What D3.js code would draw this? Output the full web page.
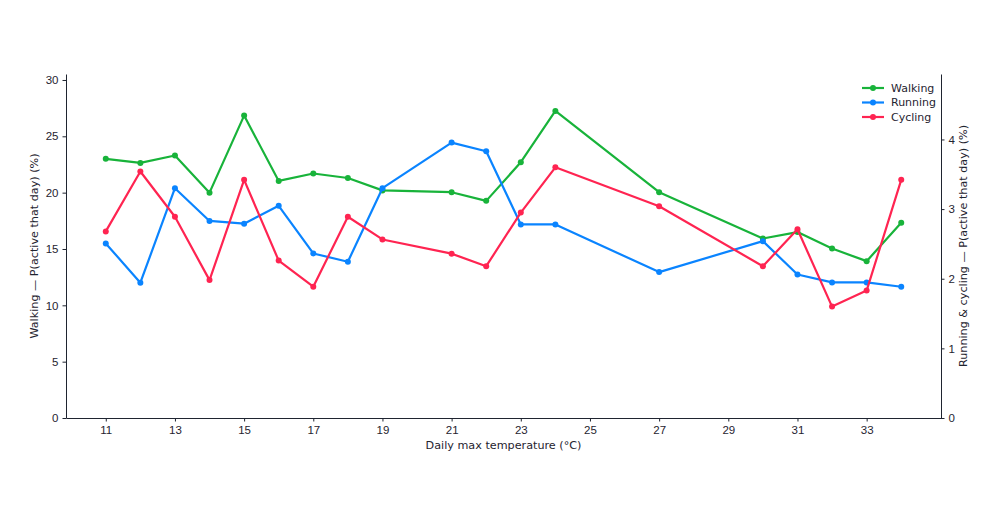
<!DOCTYPE html>
<html>
<head>
<meta charset="utf-8">
<script src="https://cdn.jsdelivr.net/npm/d3@7"></script>
<style>
  body { margin: 0; background: #fff; }
  svg { font-family: "DejaVu Sans", sans-serif; }
  .axis text { font-size: 11.5px; fill: #1f2430; }
  .axis path, .axis line { stroke: #1f2430; }
</style>
</head>
<body>
<svg id="chart" width="1000" height="525"></svg>
<script>
const temps = [11, 12, 13, 14, 15, 16, 17, 18, 19, 21, 22, 23, 24, 27, 30, 31, 32, 33, 34];
const walking = [23.0, 22.64, 23.3, 20.0, 26.84, 21.04, 21.7, 21.3, 20.2, 20.04, 19.27, 22.7, 27.25, 20.04, 15.93, 16.5, 15.04, 13.92, 17.32];
const running = [2.507, 1.943, 3.30, 2.83, 2.79, 3.047, 2.363, 2.244, 3.30, 3.955, 3.83, 2.78, 2.78, 2.095, 2.54, 2.06, 1.947, 1.947, 1.885];
const cycling = [2.68, 3.54, 2.89, 1.98, 3.42, 2.26, 1.885, 2.89, 2.564, 2.36, 2.18, 2.95, 3.60, 3.04, 2.18, 2.71, 1.60, 1.83, 3.42];
const xTicks = [11, 13, 15, 17, 19, 21, 23, 25, 27, 29, 31, 33];
const leftTicks = [0, 5, 10, 15, 20, 25, 30];
const rightTicks = [0, 1, 2, 3, 4];

const seriesList = [
  {name: "Walking", values: walking, color: "#18b33a", axis: "left"},
  {name: "Running", values: running, color: "#0a84ff", axis: "right"},
  {name: "Cycling", values: cycling, color: "#ff2451", axis: "right"}
];

const margin = {top: 74, right: 59, bottom: 107, left: 66};
const width = 1000 - margin.left - margin.right;
const height = 525 - margin.top - margin.bottom;

const svg = d3.select("#chart")
  .append("g")
  .attr("transform", `translate(${margin.left},${margin.top})`);

const x = d3.scaleLinear().domain([9.85, 35.15]).range([0, width]);
const yL = d3.scaleLinear().domain([0, 30.53]).range([height, 0]);
const yR = d3.scaleLinear().domain([0, 4.94]).range([height, 0]);

svg.append("g")
  .attr("class", "axis")
  .attr("transform", `translate(0,${height})`)
  .call(d3.axisBottom(x).tickValues(xTicks).tickSize(3.5).tickPadding(4).tickSizeOuter(0));

svg.append("g")
  .attr("class", "axis")
  .call(d3.axisLeft(yL).tickValues(leftTicks).tickSize(3.5).tickPadding(4).tickSizeOuter(0));

svg.append("g")
  .attr("class", "axis")
  .attr("transform", `translate(${width},0)`)
  .call(d3.axisRight(yR).tickValues(rightTicks).tickFormat(d3.format("d"))
    .tickSize(3.5).tickPadding(4).tickSizeOuter(0));

svg.append("text")
  .attr("x", width / 2)
  .attr("y", height + 31)
  .attr("text-anchor", "middle")
  .style("font-size", "11.2px")
  .style("fill", "#1f2430")
  .text("Daily max temperature (°C)");

svg.append("text")
  .attr("transform", "rotate(-90)")
  .attr("x", -height / 2)
  .attr("y", -28)
  .attr("text-anchor", "middle")
  .style("font-size", "11.2px")
  .style("fill", "#1f2430")
  .text("Walking — P(active that day) (%)");

svg.append("text")
  .attr("transform", "rotate(-90)")
  .attr("x", -height / 2)
  .attr("y", width + 18)
  .attr("text-anchor", "middle")
  .attr("dominant-baseline", "hanging")
  .style("font-size", "11.2px")
  .style("fill", "#1f2430")
  .text("Running & cycling — P(active that day) (%)");

seriesList.forEach(s => {
  const y = s.axis === "left" ? yL : yR;
  const pts = temps.map((t, i) => [t, s.values[i]]);
  svg.append("path")
    .datum(pts)
    .attr("fill", "none")
    .attr("stroke", s.color)
    .attr("stroke-width", 2.2)
    .attr("stroke-linejoin", "round")
    .attr("d", d3.line().x(d => x(d[0])).y(d => y(d[1])));
  svg.append("g")
    .selectAll("circle")
    .data(pts)
    .join("circle")
    .attr("cx", d => x(d[0]))
    .attr("cy", d => y(d[1]))
    .attr("r", 3)
    .attr("fill", s.color);
});

const legend = svg.append("g")
  .attr("transform", `translate(${width - 79},14)`);

seriesList.forEach((s, i) => {
  const g = legend.append("g").attr("transform", `translate(0,${i * 14.5})`);
  g.append("line").attr("x1", 0).attr("x2", 22).attr("y1", 0).attr("y2", 0)
    .attr("stroke", s.color).attr("stroke-width", 2.2);
  g.append("circle").attr("cx", 11).attr("cy", 0).attr("r", 3).attr("fill", s.color);
  g.append("text").attr("x", 29).attr("y", 0).attr("dy", "0.35em")
    .style("font-size", "11px").style("fill", "#1f2430").text(s.name);
});
</script>
</body>
</html>
